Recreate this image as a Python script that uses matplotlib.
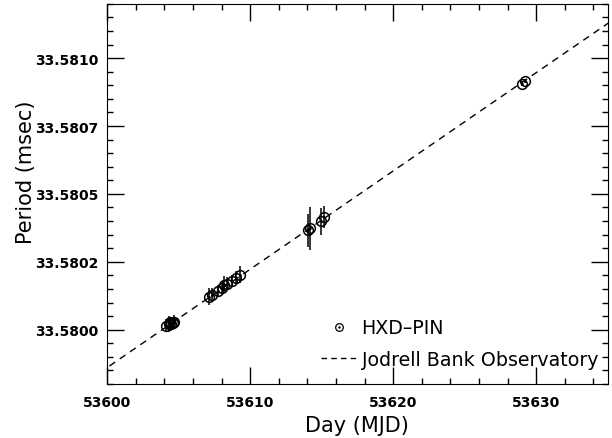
import numpy as np
import matplotlib.pyplot as plt
from matplotlib.lines import Line2D
from matplotlib.legend_handler import HandlerTuple
from matplotlib.ticker import FixedLocator, MultipleLocator

pin_mjd = [53604.15, 53604.3, 53604.4, 53604.5, 53604.6, 53604.7,
           53607.13, 53607.34, 53607.76, 53608.04, 53608.18, 53608.39,
           53608.74, 53609.02, 53609.30,
           53614.06, 53614.22, 53614.95, 53615.15,
           53628.98, 53629.22]
pin_period = [33.580015, 33.580022, 33.580028, 33.580020, 33.580026, 33.580030,
              33.580122, 33.580129, 33.580144, 33.580155, 33.580166, 33.580170,
              33.580181, 33.580192, 33.580203,
              33.580366, 33.580373, 33.580399, 33.580414,
              33.580906, 33.580916]
pin_err = [2.5e-5, 3e-5, 2e-5, 2.5e-5, 2e-5, 2.5e-5,
           3e-5, 2.5e-5, 2e-5, 2.5e-5, 3e-5, 2.5e-5,
           2e-5, 2.5e-5, 3e-5,
           6e-5, 8e-5, 5e-5, 4e-5,
           8e-6, 8e-6]

# Jodrell Bank ephemeris (straight line)
jbo_mjd = [53598, 53637]
jbo_period = [33.579788, 33.581200]

yticks = [33.5800, 33.58025, 33.5805, 33.58075, 33.5810]
ytick_labels = ['33.5800', '33.5802', '33.5805', '33.5807', '33.5810']
xticks = [53600, 53610, 53620, 53630]

fig = plt.figure(figsize=(6.12, 4.39), dpi=100)
ax = fig.add_axes([0.175, 0.123, 0.818, 0.866])

ax.plot(jbo_mjd, jbo_period, color='black', lw=1, dashes=(5, 4))
ax.errorbar(pin_mjd, pin_period, yerr=pin_err, fmt='o', ms=7, mfc='none',
            mec='black', mew=1.1, ecolor='black', elinewidth=1.1, capsize=0)
ax.plot(pin_mjd, pin_period, '.', color='black', ms=2)

ax.set_xlim(53600, 53635)
ax.set_ylim(33.5798, 33.5812)

ax.xaxis.set_major_locator(FixedLocator(xticks))
ax.xaxis.set_minor_locator(MultipleLocator(2))
ax.set_yticks(yticks)
ax.set_yticklabels(ytick_labels)
ax.yaxis.set_minor_locator(MultipleLocator(0.00005))
ax.ticklabel_format(axis='x', useOffset=False, style='plain')

ax.tick_params(which='both', direction='in', top=True, right=True, width=1)
ax.tick_params(which='major', length=12)
ax.tick_params(which='minor', length=4)
ax.tick_params(axis='x', pad=8)
ax.tick_params(axis='y', pad=6)
for lab in ax.get_xticklabels() + ax.get_yticklabels():
    lab.set_fontsize(10)
    lab.set_fontweight('bold')

ax.set_xlabel('Day (MJD)', fontsize=15, labelpad=4)
ax.set_ylabel('Period (msec)', fontsize=15, labelpad=10)
ax.yaxis.set_label_coords(-0.142, 0.56)

h_pin = (Line2D([], [], ls='none', marker='o', ms=5.5, mfc='none', mec='black', mew=0.9),
         Line2D([], [], ls='none', marker='.', ms=1.5, color='black'))
h_jbo = Line2D([], [], color='black', lw=1, dashes=(4, 3))
ax.legend([h_pin, h_jbo], ['HXD\u2013PIN', 'Jodrell Bank Observatory'],
          handler_map={tuple: HandlerTuple(ndivide=1, pad=0)},
          loc='lower right', bbox_to_anchor=(1.015, -0.005), frameon=False,
          fontsize=13.7, handlelength=1.85, handletextpad=0.28, labelspacing=0.65)

fig.savefig('out.png', dpi=100)
